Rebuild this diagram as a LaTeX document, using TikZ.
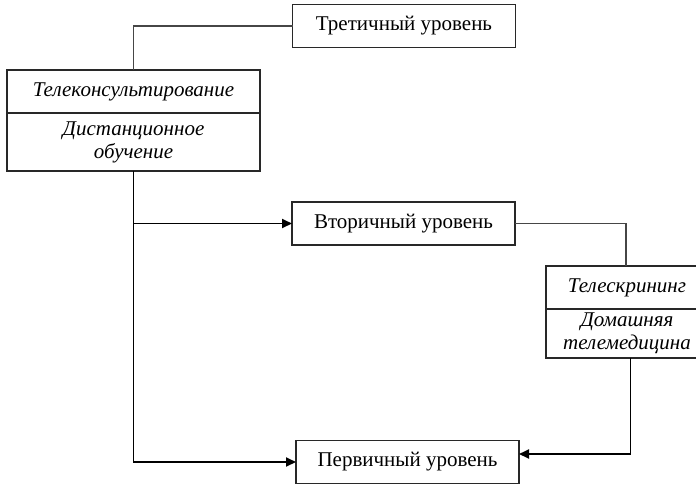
\documentclass[tikz,border=0pt]{standalone}
\usepackage{fontspec}
\setmainfont{Liberation Serif}
\usepackage{tikz}
\usetikzlibrary{arrows.meta,positioning,calc}
\definecolor{boxline}{RGB}{40,40,40}
\definecolor{linkgray}{RGB}{70,70,70}
\tikzset{
  lvl/.style={rectangle,draw=boxline,line width=1.3pt,fill=white,align=center,
              inner sep=0pt,outer sep=0pt,minimum width=223pt,minimum height=43pt},
  part/.style={rectangle,draw=boxline,line width=1.3pt,fill=white,align=center,
               inner sep=0pt,outer sep=0pt,font=\fontsize{21}{23}\selectfont\itshape},
  fl/.style={-{Triangle[length=10pt,width=9pt]},draw=black,line width=1.9pt},
  ln/.style={draw=linkgray,line width=1.5pt},
}
\begin{document}
\begin{tikzpicture}[x=1pt,y=-1pt,every node/.style={font=\fontsize{21}{23}\selectfont}]
  \useasboundingbox (0,0) rectangle (696,485);
  \node[lvl] (tert) at (404,26) {Третичный уровень};
  \node[lvl] (sec) at (403.5,223.5) {Вторичный уровень};
  \node[lvl] (prim) at (407.5,462) {Первичный уровень};
  \node[part,minimum width=253pt,minimum height=43pt] (tcons) at (133.5,91.5) {Телеконсультирование};
  \node[part,minimum width=253pt,minimum height=58pt,below=0pt of tcons] (dist) {Дистанционное\\обучение};
  \node[part,minimum width=162pt,minimum height=43pt] (tscr) at (627,287.5) {Телескрининг};
  \node[part,minimum width=162pt,minimum height=49pt,below=0pt of tscr] (home) {Домашняя\\телемедицина};
  \coordinate (tin) at (626,0);
  \coordinate (tout) at (630.5,0);
  \draw[ln] (tert.west) -| (tcons.north);
  \draw[ln] (sec.east) -| (tin |- tscr.north);
  \draw[fl] (dist.south) |- (prim.west);
  \draw[fl] (dist.south |- sec.west) -- (sec.west);
  \draw[fl] (tout |- home.south) |- ([yshift=8pt]prim.east);
\end{tikzpicture}
\end{document}
